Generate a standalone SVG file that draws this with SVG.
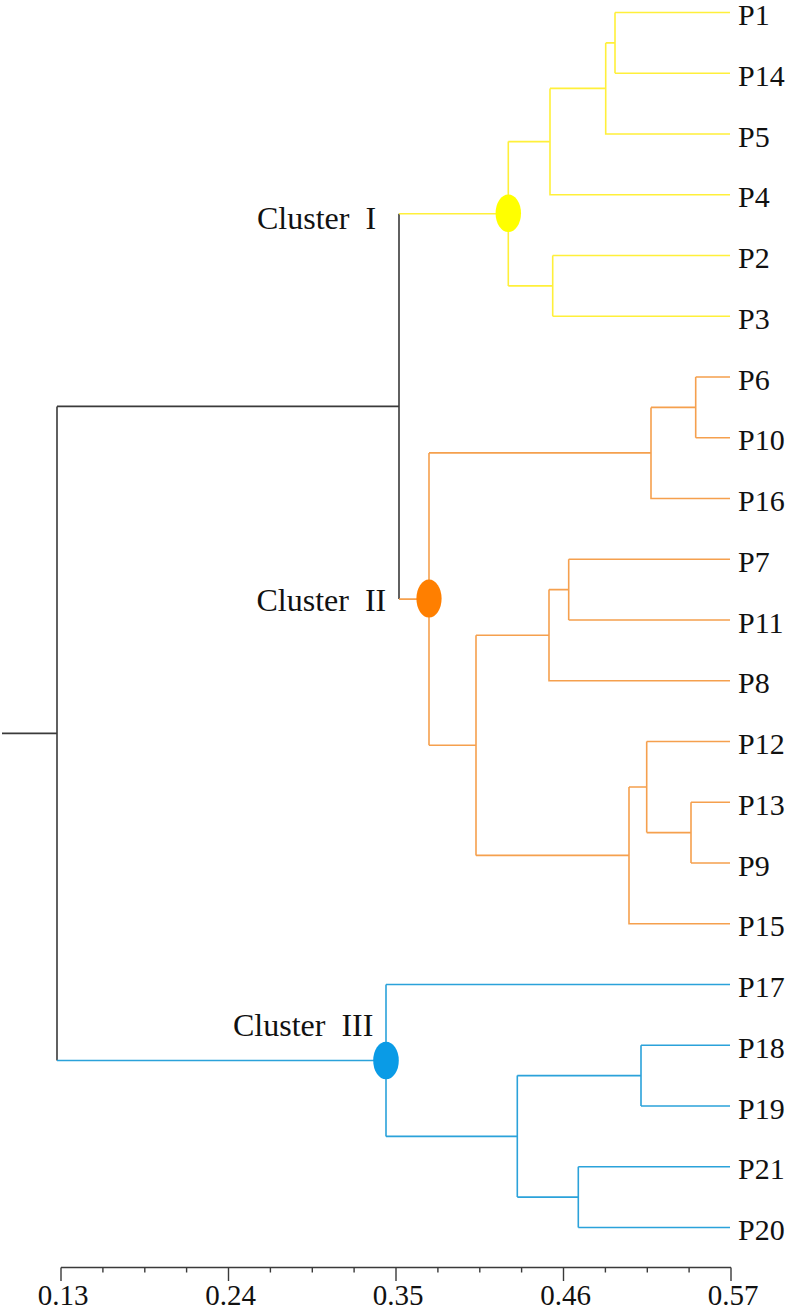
<svg xmlns="http://www.w3.org/2000/svg" width="789" height="1313" viewBox="0 0 789 1313">
<style>
.e{fill:none;stroke-width:1.6;stroke-linejoin:miter;stroke-linecap:butt}
.k{stroke:#3a3a3a}
.y{stroke:#FFF03A}
.o{stroke:#F5A04E}
.b{stroke:#2BA2DA}
.lbl{font-family:"Liberation Serif","Times New Roman",serif;font-size:30px;fill:#111}
.cl{font-family:"Liberation Serif","Times New Roman",serif;font-size:32px;fill:#111;white-space:pre}
.ax{stroke:#3a3a3a;stroke-width:1.4;fill:none}
.tk{font-family:"Liberation Serif","Times New Roman",serif;font-size:29px;fill:#111;text-anchor:middle}
</style>
<rect width="789" height="1313" fill="#fff"/>
<g id="connectors">
<path class="e k" d="M2,733.4 H57 M57,406.4 V1060.5 M57,406.4 H399 M399,213.7 V599.1"/>
<path class="e y" d="M399,213.7 H508.3 M508.3,141.6 V285.9 M508.3,141.6 H550 M550,88.4 V194.75 H730 M550,88.4 H605.7 M605.7,42.9 V134 H730 M605.7,42.9 H615 M615,12.5 V73.25 M615,12.5 H730 M615,73.25 H730 M508.3,285.9 H552.7 M552.7,255.5 V316.25 M552.7,255.5 H730 M552.7,316.25 H730"/>
<path class="e o" d="M399,599.1 H429 M429,452.9 V745.3 M429,452.9 H651 M651,407.4 V498.5 H730 M651,407.4 H695.7 M695.7,377 V437.75 M695.7,377 H730 M695.7,437.75 H730 M429,745.3 H476 M476,635.2 V855.4 M476,635.2 H549 M549,589.6 V680.75 H730 M549,589.6 H568.7 M568.7,559.25 V620 M568.7,559.25 H730 M568.7,620 H730 M476,855.4 H629 M629,787 V923.75 H730 M629,787 H646.7 M646.7,741.5 V832.6 M646.7,741.5 H730 M646.7,832.6 H691 M691,802.25 V863 M691,802.25 H730 M691,863 H730"/>
<path class="e b" d="M57,1060.5 H386 M386,984.5 V1136.4 M386,984.5 H730 M386,1136.4 H517.3 M517.3,1075.6 V1197.1 M517.3,1075.6 H641 M641,1045.25 V1106 M641,1045.25 H730 M641,1106 H730 M517.3,1197.1 H578.3 M578.3,1166.75 V1227.5 M578.3,1166.75 H730 M578.3,1227.5 H730"/>
</g>
<g id="cluster1"><ellipse cx="508.3" cy="213.2" rx="12.7" ry="18.8" fill="#FFFF00"/><text class="cl" x="257" y="228.5">Cluster  I</text></g>
<g id="cluster2"><ellipse cx="429" cy="598.6" rx="12.6" ry="19" fill="#FF7F00"/><text class="cl" x="256.5" y="611">Cluster  II</text></g>
<g id="cluster3"><ellipse cx="386" cy="1060.5" rx="12.8" ry="18.8" fill="#0A9BE6"/><text class="cl" x="233" y="1036">Cluster  III</text></g>
<g id="leaves">
<text class="lbl" x="738" y="25">P1</text>
<text class="lbl" x="738" y="85.75">P14</text>
<text class="lbl" x="738" y="146.5">P5</text>
<text class="lbl" x="738" y="207.25">P4</text>
<text class="lbl" x="738" y="268">P2</text>
<text class="lbl" x="738" y="328.75">P3</text>
<text class="lbl" x="738" y="389.5">P6</text>
<text class="lbl" x="738" y="450.25">P10</text>
<text class="lbl" x="738" y="511">P16</text>
<text class="lbl" x="738" y="571.75">P7</text>
<text class="lbl" x="738" y="632.5">P11</text>
<text class="lbl" x="738" y="693.25">P8</text>
<text class="lbl" x="738" y="754">P12</text>
<text class="lbl" x="738" y="814.75">P13</text>
<text class="lbl" x="738" y="875.5">P9</text>
<text class="lbl" x="738" y="936.25">P15</text>
<text class="lbl" x="738" y="997">P17</text>
<text class="lbl" x="738" y="1057.75">P18</text>
<text class="lbl" x="738" y="1118.5">P19</text>
<text class="lbl" x="738" y="1179.25">P21</text>
<text class="lbl" x="738" y="1240">P20</text>
</g>
<g id="axis">
<path class="ax" d="M61,1267.5 H731 M61,1267.5 V1281 M228.5,1267.5 V1281 M396,1267.5 V1281 M563.5,1267.5 V1281 M731,1267.5 V1281 M102.9,1267.5 V1272.5 M144.8,1267.5 V1272.5 M186.6,1267.5 V1272.5 M270.4,1267.5 V1272.5 M312.3,1267.5 V1272.5 M354.1,1267.5 V1272.5 M437.9,1267.5 V1272.5 M479.8,1267.5 V1272.5 M521.6,1267.5 V1272.5 M605.4,1267.5 V1272.5 M647.3,1267.5 V1272.5 M689.1,1267.5 V1272.5"/>
<text class="tk" x="63" y="1305">0.13</text>
<text class="tk" x="230.5" y="1305">0.24</text>
<text class="tk" x="398" y="1305">0.35</text>
<text class="tk" x="565.5" y="1305">0.46</text>
<text class="tk" x="733" y="1305">0.57</text>
</g>
</svg>
